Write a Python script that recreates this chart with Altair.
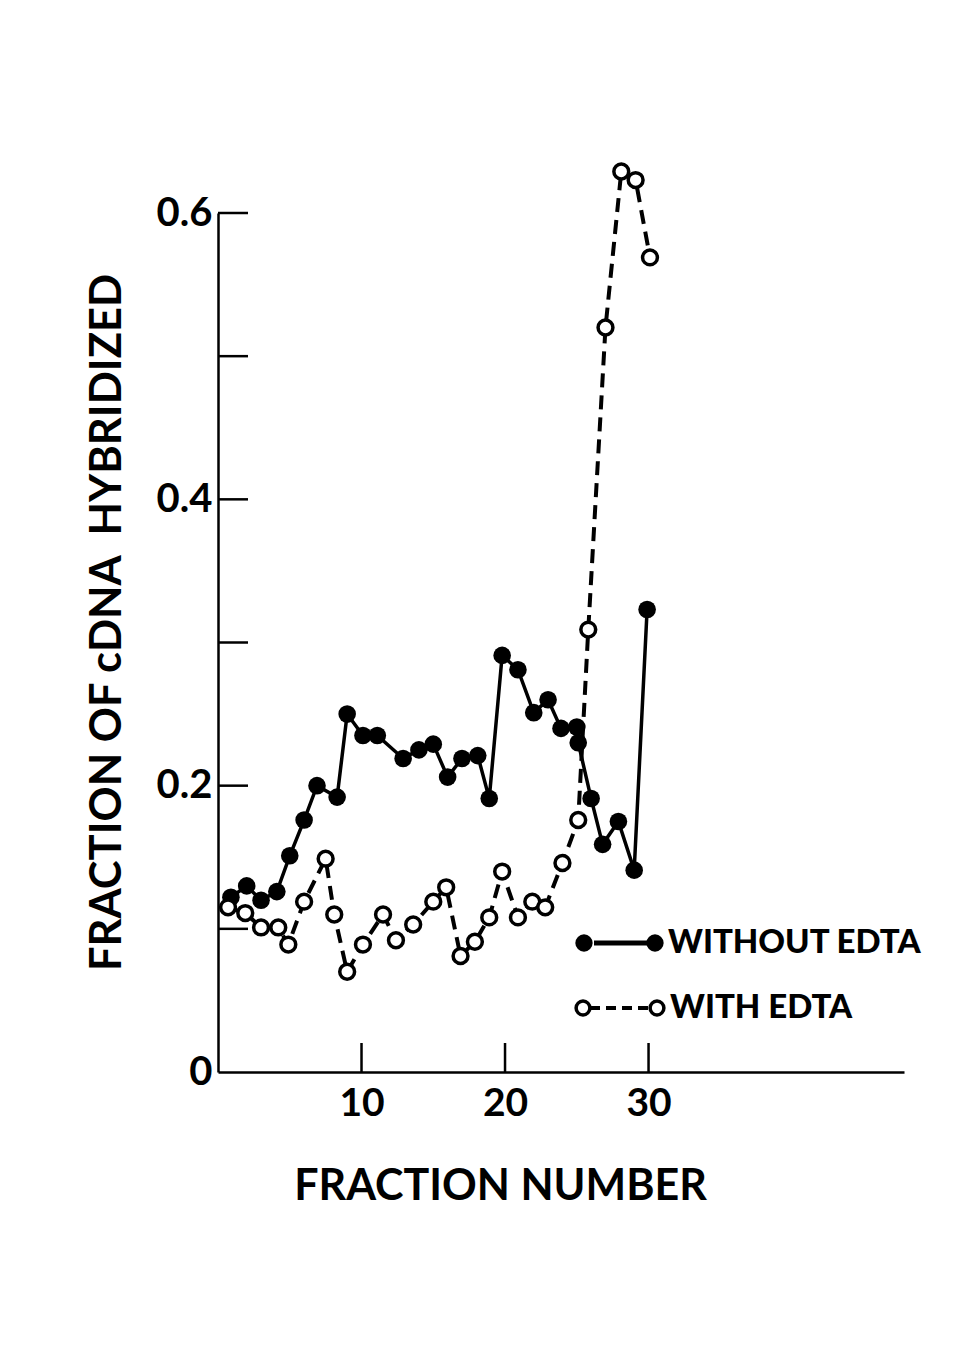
import altair as alt
import pandas as pd

# ---- data ----
without_x = [0.9, 2.0, 3.0, 4.1, 5.0, 6.0, 6.9, 8.3, 9.0, 10.1, 11.1, 12.9, 14.0, 15.0, 16.0,
             17.0, 18.1, 18.9, 19.8, 20.9, 22.0, 23.0, 23.9, 25.0, 25.1, 26.0, 26.8, 27.9, 29.0, 29.9]
without_y = [0.122, 0.130, 0.120, 0.126, 0.151, 0.176, 0.200, 0.192, 0.250, 0.235, 0.235, 0.219,
             0.225, 0.229, 0.206, 0.219, 0.221, 0.191, 0.291, 0.281, 0.251, 0.260, 0.240, 0.241,
             0.230, 0.191, 0.159, 0.175, 0.141, 0.323]

with_x = [0.7, 1.9, 3.0, 4.2, 4.9, 6.0, 7.5, 8.1, 9.0, 10.1, 11.5, 12.4, 13.6, 15.0, 15.9,
          16.9, 17.9, 18.9, 19.8, 20.9, 21.9, 22.8, 24.0, 25.1, 25.8, 27.0, 28.1, 29.1, 30.1]
with_y = [0.115, 0.111, 0.101, 0.101, 0.089, 0.119, 0.149, 0.110, 0.070, 0.089, 0.110, 0.092,
          0.103, 0.119, 0.129, 0.081, 0.091, 0.108, 0.140, 0.108, 0.119, 0.115, 0.146, 0.176,
          0.309, 0.520, 0.629, 0.623, 0.569]

x_tick_values = [10, 20, 30]
y_tick_values = [0.1, 0.2, 0.3, 0.4, 0.5, 0.6]
y_label_values = [0, 0.2, 0.4, 0.6]

legend_without = "WITHOUT EDTA"
legend_with = "WITH EDTA"

FONT = "Lato"
TW = "bold"

df_wo = pd.DataFrame({"fraction": without_x, "value": without_y, "i": list(range(len(without_x)))})
df_w = pd.DataFrame({"fraction": with_x, "value": with_y, "i": list(range(len(with_x)))})
df_xt = pd.DataFrame({"fraction": x_tick_values})
df_yt = pd.DataFrame({"value": y_tick_values})
one = pd.DataFrame({"a": [0]})

x_scale = alt.Scale(domain=[0, 47.8], nice=False, zero=False)
y_scale = alt.Scale(domain=[0, 0.6], nice=False, zero=False)

x_axis = alt.Axis(
    values=x_tick_values, title="FRACTION NUMBER", ticks=False, tickSize=0, grid=False,
    domainColor="black", domainWidth=2.5, labelFont=FONT, labelFontSize=39, labelFontWeight=TW,
    labelColor="black", labelPadding=12, labelFlush=False,
    titleFont=FONT, titleFontSize=43, titleFontWeight=TW, titleColor="black",
    titleX=282, titleY=114, titleBaseline="middle", titleAlign="center",
)
y_axis = alt.Axis(
    values=y_label_values, labelExpr="datum.value == 0 ? '0' : format(datum.value, '.1f')",
    title="FRACTION OF cDNA\u00a0 HYBRIDIZED", ticks=False, tickSize=0, grid=False,
    domainColor="black", domainWidth=2.5, labelFont=FONT, labelFontSize=40, labelFontWeight=TW,
    labelColor="black", labelPadding=6, labelFlush=False,
    titleFont=FONT, titleFontSize=43.5, titleFontWeight=TW, titleColor="black",
    titleAngle=270, titleX=-111, titleY=409, titleBaseline="middle", titleAlign="center",
)

X = alt.X("fraction:Q", scale=x_scale, axis=x_axis)
Y = alt.Y("value:Q", scale=y_scale, axis=y_axis)

line_with = alt.Chart(df_w).mark_line(color="black", strokeWidth=4, strokeDash=[14, 8]).encode(
    x=X, y=Y, order="i:Q")
line_wo = alt.Chart(df_wo).mark_line(color="black", strokeWidth=3.5).encode(x=X, y=Y, order="i:Q")
pts_wo = alt.Chart(df_wo).mark_point(shape="circle", filled=True, color="black", size=310, opacity=1).encode(x=X, y=Y)
pts_w = alt.Chart(df_w).mark_point(shape="circle", filled=True, fill="white", stroke="black",
                                   strokeWidth=3.5, size=220, opacity=1).encode(x=X, y=Y)

xticks = alt.Chart(df_xt).mark_rule(color="black", strokeWidth=2.5).encode(
    x=X, y=alt.value(859), y2=alt.value(830))
yticks = alt.Chart(df_yt).mark_rule(color="black", strokeWidth=2.5).encode(
    y=Y, x=alt.value(0), x2=alt.value(30))

# custom legend
lg_y1, lg_y2 = 730, 795
leg = [
    alt.Chart(one).mark_rule(color="black", strokeWidth=5).encode(
        x=alt.value(376), x2=alt.value(430), y=alt.value(lg_y1)),
    alt.Chart(one).mark_point(shape="circle", filled=True, color="black", size=300, opacity=1).encode(
        x=alt.value(366), y=alt.value(lg_y1)),
    alt.Chart(one).mark_point(shape="circle", filled=True, color="black", size=300, opacity=1).encode(
        x=alt.value(437), y=alt.value(lg_y1)),
    alt.Chart(one).mark_text(text=legend_without, font=FONT, fontSize=33, fontWeight=900,
                             align="left", baseline="middle", color="black").encode(
        x=alt.value(450), y=alt.value(lg_y1)),
    alt.Chart(one).mark_rule(color="black", strokeWidth=4, strokeDash=[10, 6]).encode(
        x=alt.value(372), x2=alt.value(432), y=alt.value(lg_y2)),
    alt.Chart(one).mark_point(shape="circle", filled=True, fill="white", stroke="black",
                              strokeWidth=3.5, size=190, opacity=1).encode(
        x=alt.value(365), y=alt.value(lg_y2)),
    alt.Chart(one).mark_point(shape="circle", filled=True, fill="white", stroke="black",
                              strokeWidth=3.5, size=190, opacity=1).encode(
        x=alt.value(439), y=alt.value(lg_y2)),
    alt.Chart(one).mark_text(text=legend_with, font=FONT, fontSize=33, fontWeight=900,
                             align="left", baseline="middle", color="black").encode(
        x=alt.value(452), y=alt.value(lg_y2)),
]

chart = alt.layer(line_with, line_wo, xticks, yticks, pts_wo, pts_w, *leg).properties(
    width=686, height=859,
    autosize=alt.AutoSizeParams(type="none"),
    padding={"left": 218, "top": 213, "right": 57, "bottom": 279},
    background="white",
).configure_view(stroke=None)

chart.save("out.html", embed_options={"renderer": "svg", "actions": False})
